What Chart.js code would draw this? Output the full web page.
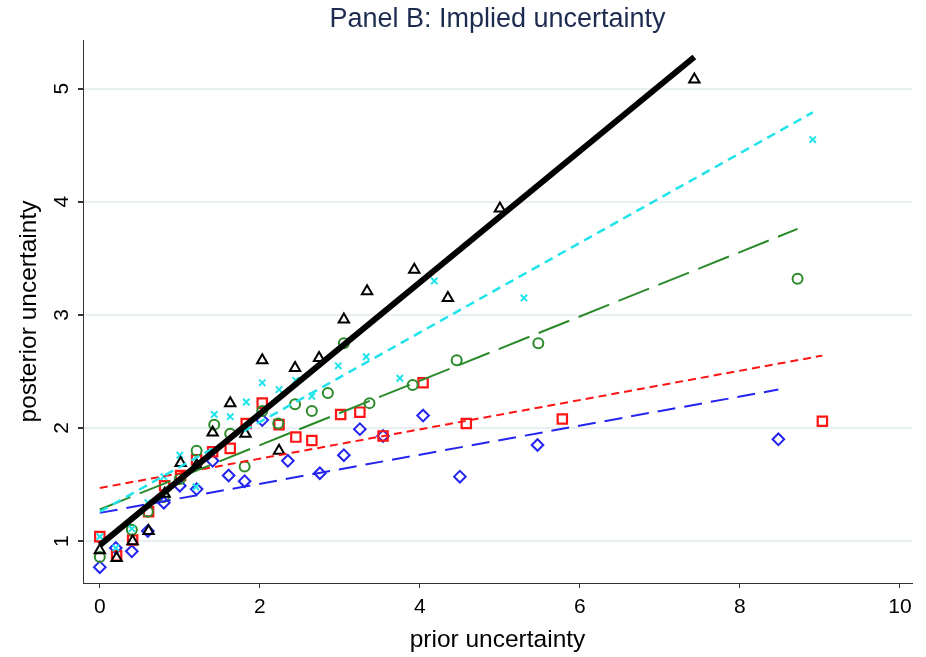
<!DOCTYPE html>
<html>
<head>
<meta charset="utf-8">
<title>Panel B: Implied uncertainty</title>
<script src="https://cdn.jsdelivr.net/npm/chart.js@4.4.1/dist/chart.umd.min.js"></script>
<style>
  html, body { margin: 0; padding: 0; background: #fff; }
  #wrap { width: 926px; height: 657px; }
</style>
</head>
<body>
<div id="wrap"><canvas id="panelB"></canvas></div>
<script>
// binned scatter values
const blackX = [0, 0.21, 0.41, 0.61, 0.81, 1.01, 1.21, 1.41, 1.63, 1.82, 2.03, 2.24, 2.44, 2.74, 3.05, 3.34, 3.93, 4.35, 5.0, 7.43];
const blackY = [0.92, 0.85, 1.0, 1.09, 1.42, 1.69, 1.67, 1.96, 2.22, 1.95, 2.60, 1.80, 2.53, 2.62, 2.96, 3.21, 3.40, 3.15, 3.94, 5.08];

const cyanX = [0, 0.2, 0.4, 0.6, 0.8, 1.0, 1.2, 1.43, 1.63, 1.83, 2.03, 2.24, 2.45, 2.65, 2.98, 3.33, 3.75, 4.18, 5.30, 8.91];
const cyanY = [1.04, 0.94, 1.11, 1.34, 1.57, 1.76, 1.48, 2.12, 2.10, 2.23, 2.40, 2.34, 2.42, 2.28, 2.55, 2.63, 2.44, 3.30, 3.15, 4.55];

const greenX = [0, 0.4, 0.6, 0.8, 1.0, 1.21, 1.43, 1.63, 1.81, 2.03, 2.23, 2.44, 2.65, 2.85, 3.05, 3.37, 3.91, 4.46, 5.48, 8.72];
const greenY = [0.86, 1.10, 1.26, 1.39, 1.55, 1.80, 2.03, 1.95, 1.66, 2.15, 2.04, 2.21, 2.15, 2.31, 2.75, 2.22, 2.38, 2.60, 2.75, 3.32];

const redX = [0, 0.21, 0.41, 0.61, 0.81, 1.01, 1.21, 1.41, 1.63, 1.83, 2.03, 2.24, 2.45, 2.65, 3.01, 3.25, 3.54, 4.04, 4.58, 5.78, 9.03];
const redY = [1.04, 0.87, 1.01, 1.26, 1.49, 1.58, 1.72, 1.79, 1.82, 2.04, 2.22, 2.03, 1.92, 1.89, 2.12, 2.14, 1.93, 2.40, 2.04, 2.08, 2.06];

const blueX = [0, 0.2, 0.4, 0.6, 0.8, 1.0, 1.21, 1.41, 1.61, 1.81, 2.03, 2.35, 2.75, 3.05, 3.25, 3.54, 4.04, 4.5, 5.47, 8.48];
const blueY = [0.77, 0.94, 0.91, 1.09, 1.34, 1.49, 1.46, 1.71, 1.58, 1.53, 2.07, 1.71, 1.60, 1.76, 1.99, 1.93, 2.11, 1.57, 1.85, 1.90];

// linear fits: value at the series' lowest and highest x
// order: black, cyan, green, red, blue
const fitLowY = [0.965, 1.26, 1.28, 1.47, 1.25];
const fitHighY = [5.28, 4.79, 3.76, 2.64, 2.34];

const xTicks = [0, 2, 4, 6, 8, 10];
const yTicks = [1, 2, 3, 4, 5];

const FONT = '"Liberation Sans", Arial, sans-serif';

function pts(xs, ys) {
  return xs.map((x, i) => ({ x: x, y: ys[i] }));
}

function fitLine(xs, i) {
  return [
    { x: Math.min(...xs), y: fitLowY[i] },
    { x: Math.max(...xs), y: fitHighY[i] }
  ];
}

function lineSet(data, color, width, dash) {
  return {
    data: data,
    showLine: true,
    borderColor: color,
    borderWidth: width,
    borderDash: dash,
    pointRadius: 0,
    fill: false
  };
}

function markerSet(data, color, style, radius, width) {
  return {
    data: data,
    showLine: false,
    pointStyle: style,
    pointRadius: radius,
    pointBorderColor: color,
    pointBackgroundColor: 'rgba(0,0,0,0)',
    pointBorderWidth: width,
    borderColor: color,
    backgroundColor: 'rgba(0,0,0,0)'
  };
}

// y tick labels are rotated like the original
const rotatedYLabels = {
  id: 'rotatedYLabels',
  afterDraw(chart) {
    const ctx = chart.ctx;
    const y = chart.scales.y;
    ctx.save();
    ctx.font = '21px ' + FONT;
    ctx.fillStyle = '#000';
    ctx.textAlign = 'center';
    ctx.textBaseline = 'middle';
    yTicks.forEach(v => {
      ctx.save();
      ctx.translate(y.right - 21, y.getPixelForValue(v));
      ctx.rotate(-Math.PI / 2);
      ctx.fillText(String(v), 0, 0);
      ctx.restore();
    });
    ctx.restore();
  }
};

const cyan = '#20e3ec';
const green = '#2a8a2a';
const red = '#ff1414';
const blue = '#2424f0';

new Chart(document.getElementById('panelB'), {
  type: 'scatter',
  data: {
    datasets: [
      // fitted lines first so they sit on top of the markers
      lineSet(fitLine(blackX, 0), '#000', 6, []),
      lineSet(fitLine(cyanX, 1), cyan, 2.5, [9, 6]),
      lineSet(fitLine(greenX, 2), green, 2, [33, 10]),
      lineSet(fitLine(redX, 3), red, 2, [8, 5]),
      lineSet(fitLine(blueX, 4), blue, 2, [18, 9]),
      markerSet(pts(blackX, blackY), '#000', 'triangle', 6, 2),
      markerSet(pts(cyanX, cyanY), cyan, 'crossRot', 4.5, 2),
      markerSet(pts(greenX, greenY), green, 'circle', 5, 2),
      markerSet(pts(redX, redY), red, 'rect', 6.6, 2.2),
      markerSet(pts(blueX, blueY), blue, 'rectRot', 5.8, 2)
    ]
  },
  options: {
    responsive: true,
    maintainAspectRatio: false,
    animation: false,
    devicePixelRatio: 1,
    layout: {
      padding: { right: 14 }
    },
    plugins: {
      legend: { display: false },
      tooltip: { enabled: false },
      title: {
        display: true,
        text: 'Panel B: Implied uncertainty',
        color: '#1c2b4f',
        fullSize: false,
        font: { family: FONT, size: 27, weight: 'normal' },
        padding: { top: 3, bottom: 4.6 }
      }
    },
    scales: {
      x: {
        type: 'linear',
        min: -0.21,
        max: 10.15,
        afterBuildTicks: s => { s.ticks = xTicks.map(v => ({ value: v })); },
        afterFit: s => { s.height = 74; },
        grid: {
          drawOnChartArea: false,
          drawTicks: true,
          tickLength: 5,
          tickColor: '#333'
        },
        border: { display: true, color: '#333', width: 1 },
        ticks: {
          color: '#000',
          padding: 7,
          maxRotation: 0,
          autoSkip: false,
          font: { family: FONT, size: 21 }
        },
        title: {
          display: true,
          text: 'prior uncertainty',
          color: '#000',
          font: { family: FONT, size: 24.5 },
          padding: { top: 0, bottom: 2 }
        }
      },
      y: {
        type: 'linear',
        min: 0.63,
        max: 5.43,
        afterBuildTicks: s => { s.ticks = yTicks.map(v => ({ value: v })); },
        afterFit: s => { s.width = 83; },
        grid: {
          color: '#e8eff1',
          lineWidth: 2,
          drawTicks: true,
          tickLength: 5,
          tickColor: '#333'
        },
        border: { display: true, color: '#333', width: 1 },
        ticks: { display: false },
        title: {
          display: true,
          text: 'posterior uncertainty',
          color: '#000',
          font: { family: FONT, size: 24.5 },
          padding: { top: 15, bottom: 0 }
        }
      }
    }
  },
  plugins: [rotatedYLabels]
});
</script>
</body>
</html>
